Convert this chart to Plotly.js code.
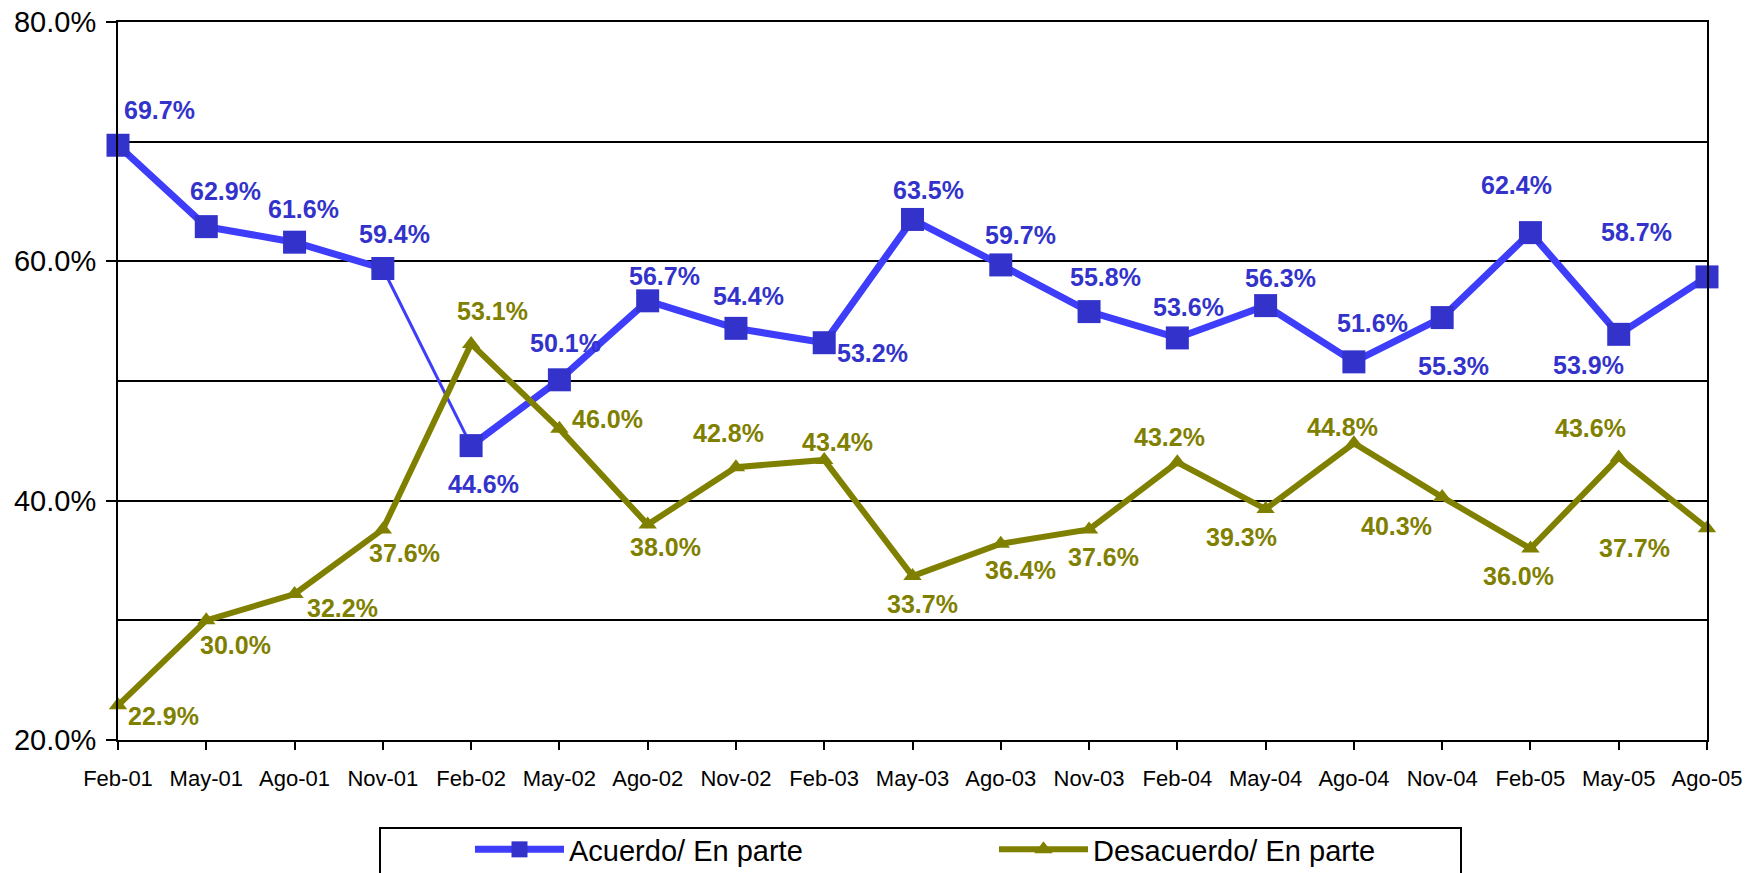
<!DOCTYPE html>
<html>
<head>
<meta charset="utf-8">
<script src="https://cdn.plot.ly/plotly-3.0.1.min.js"></script>
<style>
  html, body { margin: 0; padding: 0; background: #ffffff; }
  #chart { width: 1762px; height: 873px; }
</style>
</head>
<body>
<div id="chart"></div>
<script>
// ---- data ----
const categories = ["Feb-01","May-01","Ago-01","Nov-01","Feb-02","May-02","Ago-02","Nov-02","Feb-03","May-03","Ago-03","Nov-03","Feb-04","May-04","Ago-04","Nov-04","Feb-05","May-05","Ago-05"];
const acuerdo = [69.7, 62.9, 61.6, 59.4, 44.6, 50.1, 56.7, 54.4, 53.2, 63.5, 59.7, 55.8, 53.6, 56.3, 51.6, 55.3, 62.4, 53.9, 58.7];
const desacuerdo = [22.9, 30.0, 32.2, 37.6, 53.1, 46.0, 38.0, 42.8, 43.4, 33.7, 36.4, 37.6, 43.2, 39.3, 44.8, 40.3, 36.0, 43.6, 37.7];
const seriesNames = ["Acuerdo/ En parte", "Desacuerdo/ En parte"];
const yTickVals = [20, 40, 60, 80];
const yTickText = yTickVals.map(v => v.toFixed(1) + '%');

// label placement (pixel offsets of each data label from its point: dx right, dy down)
const acuerdoLabelOffsets = [[41,-35],[19,-36],[9,-33],[12,-35],[12,38],[6,-37],[17,-25],[13,-32],[48,10],[16,-29],[20,-30],[16,-35],[11,-31],[15,-28],[19,-39],[11,48],[-14,-48],[-30,31],[-71,-45]];
const desacuerdoLabelOffsets = [[45,11],[29,25],[48,14],[22,24],[21,-33],[48,-10],[18,22],[-7,-34],[13,-18],[10,28],[20,26],[14,28],[-8,-25],[-24,28],[-11,-16],[-46,29],[-12,27],[-28,-30],[-73,20]];

// ---- styles ----
const BLUE_LINE = '#3d3dfa';
const BLUE_MARK = '#3333cc';
const BLUE_TEXT = '#3333cc';
const OLIVE = '#808000';
const FONT = 'Liberation Sans, Arial, sans-serif';

// The Nov-01 -> Feb-02 segment is drawn thinner in the original
const thinFrom = 3, thinTo = 4;

const traces = [
  { // thin segment
    x: categories.slice(thinFrom, thinTo + 1), y: acuerdo.slice(thinFrom, thinTo + 1),
    type: 'scatter', mode: 'lines', line: { color: BLUE_LINE, width: 3 },
    showlegend: false, hoverinfo: 'skip', cliponaxis: false
  },
  {
    x: categories.slice(0, thinFrom + 1), y: acuerdo.slice(0, thinFrom + 1),
    type: 'scatter', mode: 'lines+markers', name: seriesNames[0], legendgroup: 'a',
    line: { color: BLUE_LINE, width: 7 },
    marker: { symbol: 'square', size: 23, color: BLUE_MARK },
    cliponaxis: false
  },
  {
    x: categories.slice(thinTo), y: acuerdo.slice(thinTo),
    type: 'scatter', mode: 'lines+markers', name: seriesNames[0], legendgroup: 'a', showlegend: false,
    line: { color: BLUE_LINE, width: 7 },
    marker: { symbol: 'square', size: 23, color: BLUE_MARK },
    cliponaxis: false
  },
  {
    x: categories, y: desacuerdo,
    type: 'scatter', mode: 'lines+markers', name: seriesNames[1],
    line: { color: OLIVE, width: 6 },
    marker: { symbol: 'triangle-up', size: 16, color: OLIVE },
    cliponaxis: false
  }
];

const annotations = [];
function addLabels(vals, offsets, color) {
  vals.forEach((v, i) => {
    annotations.push({
      x: categories[i], y: v, xref: 'x', yref: 'y',
      text: v.toFixed(1) + '%', showarrow: false,
      xshift: offsets[i][0], yshift: -offsets[i][1],
      xanchor: 'center', yanchor: 'middle',
      font: { family: FONT, size: 25, color: color, weight: 'bold' }
    });
  });
}
addLabels(acuerdo, acuerdoLabelOffsets, BLUE_TEXT);
addLabels(desacuerdo, desacuerdoLabelOffsets, OLIVE);

const plotL = 118, plotR = 1707, plotT = 22, plotB = 740, W = 1762, H = 873;
const pw = plotR - plotL, ph = plotB - plotT;
const px = v => (v - plotL) / pw;
const py = v => (plotB - v) / ph;

const layout = {
  width: W, height: H,
  margin: { l: plotL, r: W - plotR, t: plotT, b: H - plotB, pad: 0, autoexpand: false },
  paper_bgcolor: '#ffffff', plot_bgcolor: '#ffffff',
  font: { family: FONT, color: '#000000' },
  showlegend: true,
  xaxis: {
    type: 'category', categoryorder: 'array', categoryarray: categories,
    range: [0, categories.length - 1],
    showline: true, linecolor: '#000000', linewidth: 2, mirror: true,
    ticks: 'outside', ticklen: 8, tickwidth: 2, tickcolor: '#000000',
    showgrid: false, zeroline: false,
    tickfont: { family: FONT, size: 22, color: '#000000' },
    ticklabelstandoff: 10,
    automargin: false,
    fixedrange: true
  },
  yaxis: {
    range: [20, 80],
    tickmode: 'array', tickvals: yTickVals, ticktext: yTickText,
    showline: true, linecolor: '#000000', linewidth: 2, mirror: true,
    ticks: 'outside', ticklen: 10, tickwidth: 2, tickcolor: '#000000',
    showgrid: true, gridcolor: '#000000', gridwidth: 2,
    minor: { dtick: 10, tick0: 20, showgrid: true, gridcolor: '#000000', gridwidth: 2, ticks: '' },
    zeroline: false,
    tickfont: { family: FONT, size: 29, color: '#000000' },
    ticklabelstandoff: 4,
    automargin: false,
    fixedrange: true
  },
  legend: {
    orientation: 'h',
    x: px(470), xanchor: 'left',
    y: py(824), yanchor: 'top',
    bgcolor: 'rgba(0,0,0,0)', borderwidth: 0,
    itemwidth: 89, entrywidth: 420, entrywidthmode: 'pixels',
    font: { family: FONT, size: 29, color: '#000000' },
    traceorder: 'normal', itemclick: false, itemdoubleclick: false
  },
  shapes: [{
    type: 'rect', xref: 'paper', yref: 'paper',
    x0: px(380), x1: px(1461), y0: py(828), y1: py(900),
    line: { color: '#000000', width: 2 }, fillcolor: 'rgba(0,0,0,0)', layer: 'below'
  }],
  annotations: annotations
};

Plotly.newPlot('chart', traces, layout, { displayModeBar: false, staticPlot: true });
</script>
</body>
</html>
